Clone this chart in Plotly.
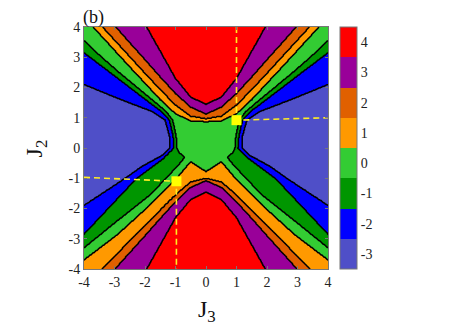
import numpy as np
import plotly.graph_objects as go

# band values and their colours (colorbar from -3 to 4)
levels = [-3, -2, -1, 0, 1, 2, 3, 4]
level_labels = ['-3', '-2', '-1', '0', '1', '2', '3', '4']
level_colors = ['#4f4fc8', '#0000ff', '#009600', '#33cc33',
                '#ff9900', '#e06000', '#990099', '#ff0000']

# axis ticks
ticks = [-4, -3, -2, -1, 0, 1, 2, 3, 4]
tick_labels = ['-4', '-3', '-2', '-1', '0', '1', '2', '3', '4']

# upper-family boundaries (J2 read at |J3|), J2 > 0 half
b_j3 = [0, 0.5, 1.0, 1.5, 2.0, 2.5, 3.0, 3.5, 4.0]
b01_top = [0.87, 0.90, 1.13, 1.60, 2.14, 2.68, 3.23, 3.78, 4.33]
b12_top = [0.97, 1.05, 1.42, 1.93, 2.47, 3.02, 3.57, 4.12, 4.67]
b23_top = [1.12, 1.35, 1.80, 2.35, 2.92, 3.48, 4.05, 4.60, 5.15]
b34_top = [1.45, 1.68, 2.30, 3.20, 4.10, 5.00, 5.90, 6.80, 7.70]

# same boundaries in the J2 < 0 half
b01_bot_j3 = [0, 0.25, 0.5, 0.96, 1.81, 2.9, 4.0]
b01_bot = [-0.78, -0.62, -0.45, -1.0, -1.86, -2.86, -3.7]
b12_bot = [-1.0, -1.12, -1.55, -2.05, -2.56, -3.07, -3.58, -4.09, -4.6]
b23_bot = [-1.08, -1.30, -1.78, -2.33, -2.90, -3.46, -4.02, -4.58, -5.13]
b34_bot = [-1.46, -1.70, -2.30, -3.20, -4.10, -5.00, -5.90, -6.80, -7.70]

# side-family boundaries (|J3| read at |J2|), J2 > 0 half
s01_top_j2 = [0, 0.4, 0.92, 1.2, 1.5, 2.0, 2.5, 3.0, 3.55, 4.0]
s01_top = [0.95, 0.98, 1.09, 1.30, 1.65, 2.25, 2.85, 3.42, 4.0, 4.5]
s12_top_j2 = [0, 0.4, 0.92, 1.2, 1.5, 2.0, 2.5, 3.15, 4.0]
s12_top = [1.05, 1.08, 1.20, 1.45, 1.85, 2.50, 3.15, 4.0, 5.0]
s23_top_j2 = [0, 0.4, 0.92, 1.2, 1.45, 1.75, 2.1, 3.0, 4.0]
s23_top = [1.18, 1.20, 1.34, 1.75, 2.40, 3.15, 4.0, 6.1, 8.4]

# side-family boundaries, J2 < 0 half (read at |J2|)
s01_bot_j2 = [0, 0.15, 0.31, 0.55, 1.53, 2.4, 3.3, 4.0]
s01_bot = [0.95, 0.88, 0.70, 0.89, 1.81, 2.9, 4.0, 4.85]
s12_bot_j2 = [0, 0.36, 1.02, 2.85, 4.0]
s12_bot = [1.05, 1.41, 2.29, 4.0, 5.1]
s23_bot_j2 = [0, 0.25, 0.61, 1.0, 1.9, 3.0, 4.0]
s23_bot = [1.18, 1.45, 2.10, 2.65, 4.0, 5.7, 7.4]

# yellow dashed guides and markers
guide_top_x = [1.0, 1.0, 4.0]
guide_top_y = [4.0, 0.92, 1.0]
guide_bot_x = [-4.0, -0.97, -0.97]
guide_bot_y = [-0.97, -1.1, -4.0]
marker_x = [1.0, -0.97]
marker_y = [0.92, -1.1]

# build the phase map from the boundaries
j3 = np.linspace(-4, 4, 321)
j2 = np.linspace(-4, 4, 321)
X, Y = np.meshgrid(j3, j2)
AX = np.abs(X)
AY = np.abs(Y)

up_top = np.zeros_like(X)
for by in (b01_top, b12_top, b23_top, b34_top):
    up_top += Y > np.interp(AX, b_j3, by)
up_bot = (Y < np.interp(AX, b01_bot_j3, b01_bot)).astype(float)
for by in (b12_bot, b23_bot, b34_bot):
    up_bot += Y < np.interp(AX, b_j3, by)

side_top = np.zeros_like(X)
for sy, sx in ((s01_top_j2, s01_top), (s12_top_j2, s12_top), (s23_top_j2, s23_top)):
    side_top += AX > np.interp(AY, sy, sx)
side_bot = np.zeros_like(X)
for sy, sx in ((s01_bot_j2, s01_bot), (s12_bot_j2, s12_bot), (s23_bot_j2, s23_bot)):
    side_bot += AX > np.interp(AY, sy, sx)

Z = np.where(Y >= 0,
             np.where(up_top > 0, up_top, -side_top),
             np.where(up_bot > 0, up_bot, -side_bot))

n = len(levels) - 1
fill_scale = [[i / n, c] for i, c in enumerate(level_colors)]
# stepped scale for the colorbar: one equal block per level
bar_scale = []
for i, c in enumerate(level_colors):
    bar_scale += [[i / len(levels), c], [(i + 1) / len(levels), c]]
serif = 'Liberation Serif, Times New Roman, serif'

fig = go.Figure()

fig.add_trace(go.Contour(
    x=j3, y=j2, z=Z,
    autocontour=False,
    contours=dict(start=-2.5, end=3.5, size=1, coloring='fill', showlines=False),
    colorscale=fill_scale,
    line=dict(width=0),
    showscale=False,
    hoverinfo='skip',
))

fig.add_trace(go.Contour(
    x=j3, y=j2, z=Z,
    autocontour=False,
    contours=dict(start=-2.5, end=3.5, size=1, coloring='lines'),
    colorscale=[[0, '#000000'], [1, '#000000']],
    line=dict(width=1.5, smoothing=1.0),
    showscale=False,
    hoverinfo='skip',
))

for gx, gy in ((guide_top_x, guide_top_y), (guide_bot_x, guide_bot_y)):
    fig.add_trace(go.Scatter(
        x=gx, y=gy, mode='lines',
        line=dict(color='#ffee22', width=1.6, dash='6px,4px'),
        hoverinfo='skip',
    ))

fig.add_trace(go.Scatter(
    x=marker_x, y=marker_y, mode='markers',
    marker=dict(symbol='square', size=10, color='#ffff00', line=dict(width=0)),
    hoverinfo='skip',
))

# colorbar carrier (invisible point)
fig.add_trace(go.Scatter(
    x=[0], y=[0], mode='markers', hoverinfo='skip',
    marker=dict(
        color=[0], cmin=-3.5, cmax=4.5, colorscale=bar_scale, opacity=0, size=1,
        showscale=True,
        colorbar=dict(
            x=(340 - 84) / 244, xanchor='left', xpad=0,
            y=0.5, yanchor='middle', ypad=0,
            len=1, lenmode='fraction',
            thickness=17, thicknessmode='pixels',
            outlinewidth=1, outlinecolor='#777777',
            tickvals=levels, ticktext=level_labels,
            ticks='',
            tickfont=dict(family=serif, size=14, color='#222222'),
        ),
    ),
))

axis_style = dict(
    range=[-4, 4],
    tickvals=ticks, ticktext=tick_labels,
    ticks='inside', ticklen=3, tickcolor='#777777',
    showline=True, linecolor='#777777', linewidth=1, mirror='ticks',
    showgrid=False, zeroline=False,
    tickfont=dict(family=serif, size=14, color='#222222'),
)

# page body adds an 8px offset, so the figure is 8px smaller than the window
fig.update_layout(
    width=441, height=328,
    margin=dict(l=76, r=121, t=17, b=67),
    plot_bgcolor='#ffffff',
    paper_bgcolor='#ffffff',
    showlegend=False,
    font=dict(family=serif, color='#222222'),
    xaxis=axis_style,
    yaxis=axis_style,
    annotations=[
        dict(text='(b)', x=-0.01, y=1.04, xref='paper', yref='paper',
             xanchor='left', yanchor='middle', showarrow=False, borderpad=0,
             font=dict(family=serif, size=18, color='#111111')),
        dict(text='J<sub>3</sub>', x=0.504, y=-0.175, xref='paper', yref='paper',
             xanchor='center', yanchor='middle', showarrow=False,
             font=dict(family=serif, size=24, color='#111111')),
        dict(text='J<sub>2</sub>', x=-0.195, y=0.5, xref='paper', yref='paper',
             xanchor='center', yanchor='middle', showarrow=False, textangle=-90,
             font=dict(family=serif, size=24, color='#111111')),
    ],
)

fig.write_html("out.html")
